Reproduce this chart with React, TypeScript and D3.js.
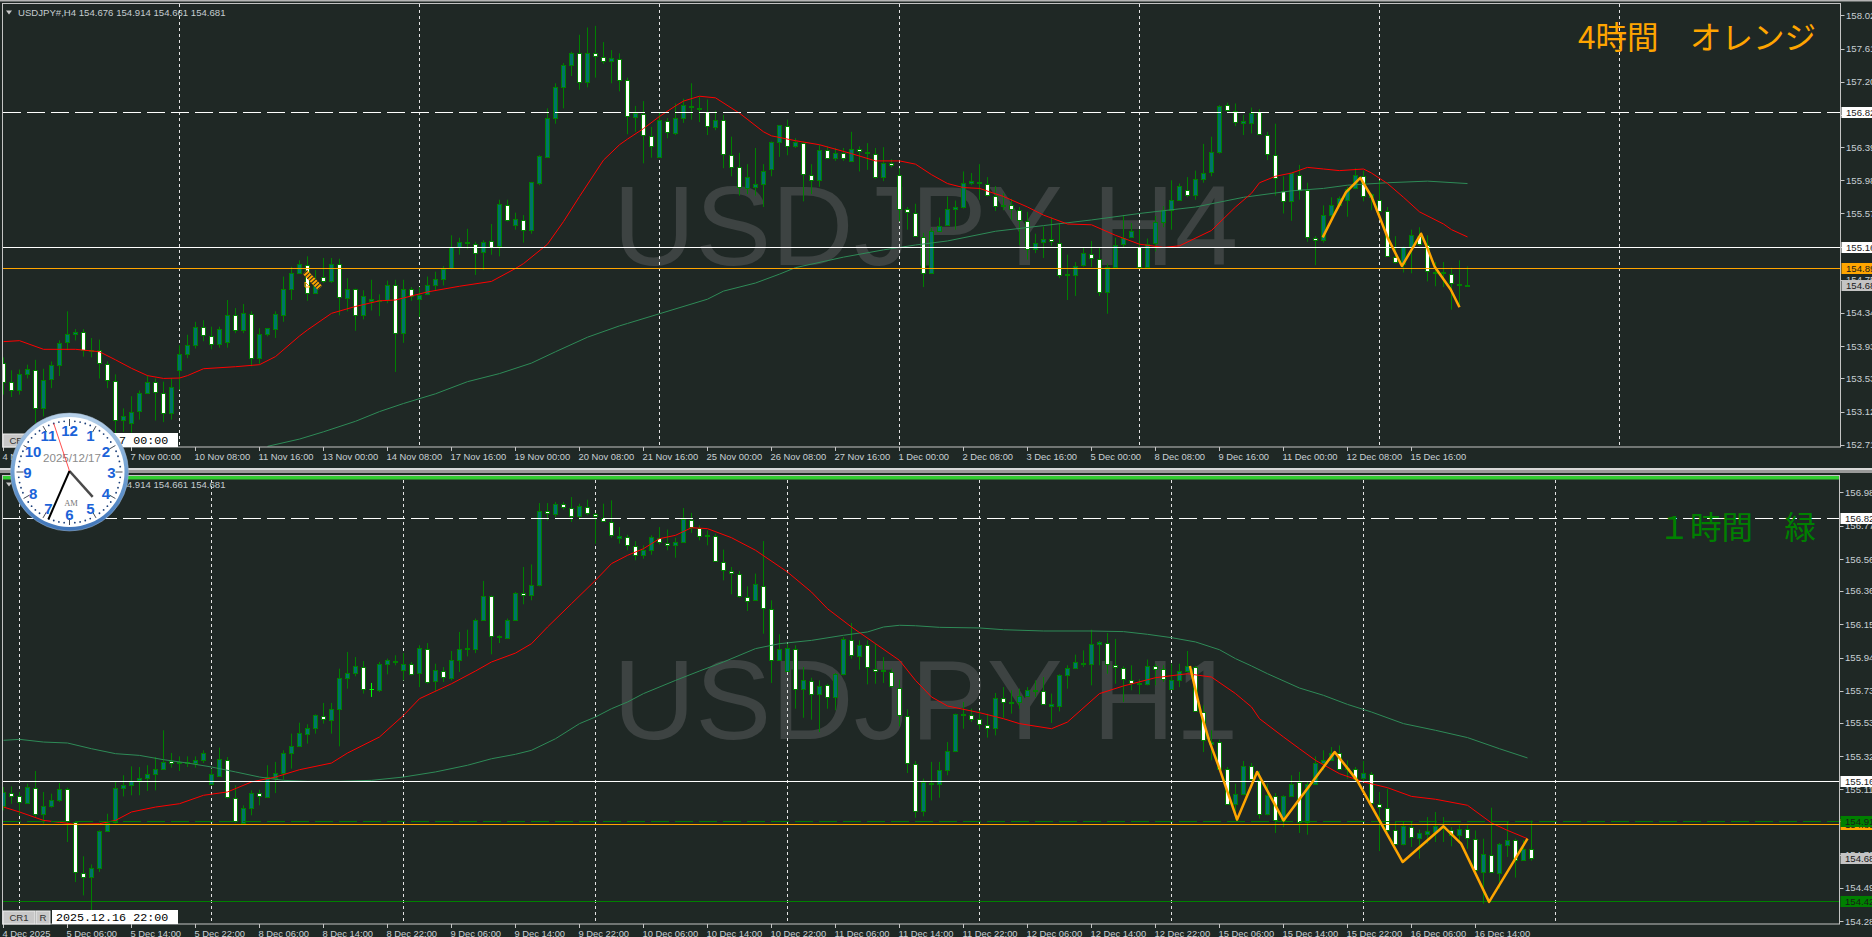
import React from "react";
import * as d3 from "d3";

// [open, high, low, close]
const h4Candles: number[][] = [
  [153.72,153.79,153.33,153.49],[153.48,153.63,153.30,153.39],[153.39,153.64,153.33,153.58],[153.59,153.70,153.53,153.65],
  [153.63,153.76,152.98,153.16],[153.16,153.65,153.06,153.51],[153.52,153.74,153.41,153.69],[153.70,154.00,153.56,153.97],
  [153.98,154.36,153.88,154.08],[154.08,154.14,154.00,154.11],[154.11,154.14,153.80,153.88],[153.87,154.03,153.79,153.88],
  [153.88,154.01,153.53,153.72],[153.71,153.74,153.41,153.51],[153.50,153.58,152.85,153.02],[153.01,153.16,152.87,153.06],
  [152.98,153.31,152.86,153.12],[153.13,153.38,153.02,153.35],[153.35,153.57,153.34,153.49],[153.49,153.53,153.01,153.36],
  [153.35,153.49,152.99,153.10],[153.10,153.53,153.02,153.43],[153.64,153.94,153.39,153.83],[153.83,154.07,153.78,153.94],
  [153.94,154.23,153.90,154.16],[154.16,154.25,153.99,154.07],[154.06,154.17,153.89,153.95],[153.95,154.17,153.91,154.14],
  [153.98,154.50,153.91,154.32],[154.31,154.40,154.09,154.13],[154.13,154.45,154.09,154.34],[154.33,154.36,153.68,153.78],
  [153.78,154.15,153.71,154.08],[154.08,154.15,154.05,154.15],[154.14,154.36,154.03,154.33],[154.32,154.79,154.23,154.64],
  [154.64,154.91,154.50,154.84],[154.84,154.99,154.83,154.94],[154.93,155.04,154.49,154.59],[154.59,154.87,154.58,154.71],
  [154.78,155.02,154.71,154.73],[154.73,155.02,154.71,154.95],[154.95,155.01,154.31,154.54],[154.53,154.77,154.36,154.64],
  [154.64,154.64,154.12,154.31],[154.31,154.62,154.26,154.55],[154.49,154.75,154.37,154.51],[154.50,154.57,154.30,154.49],
  [154.50,154.74,154.46,154.69],[154.69,154.75,153.61,154.09],[154.09,154.75,153.97,154.64],[154.64,154.66,154.49,154.55],
  [154.51,154.66,154.29,154.56],[154.57,154.79,154.56,154.68],[154.68,154.85,154.62,154.76],[154.76,154.92,154.68,154.88],
  [154.89,155.30,154.88,155.15],[155.15,155.27,155.06,155.22],[155.22,155.38,155.13,155.20],[155.19,155.22,154.81,155.08],
  [155.09,155.24,154.87,155.22],[155.23,155.44,155.06,155.16],[155.17,155.74,155.04,155.69],[155.67,155.74,155.47,155.49],
  [155.43,155.58,155.37,155.50],[155.49,155.55,155.21,155.37],[155.36,155.96,155.32,155.96],[155.95,156.29,155.92,156.28],
  [156.27,156.87,156.27,156.75],[156.75,157.18,156.68,157.13],[157.13,157.43,156.87,157.41],[157.41,157.57,157.27,157.55],
  [157.55,157.78,157.10,157.19],[157.19,157.87,157.13,157.56],[157.56,157.89,157.25,157.52],[157.51,157.69,157.42,157.45],
  [157.45,157.59,157.18,157.49],[157.48,157.55,157.08,157.22],[157.22,157.25,156.55,156.77],[156.76,156.90,156.58,156.81],
  [156.80,156.96,156.19,156.54],[156.53,156.64,156.26,156.40],[156.27,156.81,156.26,156.72],[156.71,156.75,156.50,156.58],
  [156.57,156.93,156.54,156.75],[156.75,156.99,156.69,156.91],[156.90,157.18,156.73,156.89],[156.87,157.01,156.70,156.88],
  [156.83,156.98,156.54,156.65],[156.64,156.84,156.60,156.73],[156.73,156.79,156.13,156.30],[156.29,156.52,156.03,156.15],
  [156.14,156.32,155.79,155.90],[155.89,156.18,155.81,156.02],[155.90,156.38,155.79,155.94],[155.94,156.18,155.65,156.10],
  [156.12,156.46,156.03,156.45],[156.45,156.66,156.27,156.66],[156.65,156.73,156.29,156.40],[156.40,156.50,156.38,156.46],
  [156.44,156.46,155.72,156.06],[156.04,156.18,155.81,155.99],[155.99,156.42,155.90,156.35],[156.35,156.40,156.24,156.26],
  [156.26,156.38,156.22,156.32],[156.32,156.38,156.22,156.26],[156.22,156.58,156.21,156.37],[156.37,156.40,156.09,156.34],
  [156.33,156.44,156.11,156.32],[156.31,156.38,156.00,156.02],[156.02,156.39,155.97,156.20],[156.20,156.24,156.14,156.17],
  [156.05,156.13,155.47,155.63],[155.63,155.65,155.37,155.59],[155.58,155.69,155.28,155.29],[155.28,155.33,154.66,154.84],
  [154.84,155.39,154.83,155.35],[155.35,155.52,155.34,155.42],[155.43,155.78,155.42,155.63],[155.63,155.73,155.37,155.65],
  [155.65,156.09,155.63,155.95],[155.95,156.07,155.92,155.97],[155.96,156.18,155.74,155.95],[155.93,156.02,155.78,155.80],
  [155.79,155.91,155.60,155.66],[155.66,155.82,155.61,155.68],[155.68,155.75,155.49,155.63],[155.61,155.65,155.18,155.49],
  [155.48,155.59,155.00,155.13],[155.13,155.32,155.08,155.21],[155.22,155.41,155.02,155.26],[155.26,155.52,155.17,155.23],
  [155.21,155.44,154.77,154.81],[154.81,155.06,154.50,154.82],[154.81,154.97,154.55,154.92],[154.93,155.15,154.91,155.08],
  [155.07,155.23,154.91,155.02],[155.01,155.15,154.55,154.60],[154.60,154.95,154.33,154.91],[154.91,155.27,154.90,155.18],
  [155.19,155.55,155.15,155.27],[155.28,155.45,155.27,155.35],[155.15,155.37,154.89,154.91],[154.91,155.26,154.90,155.19],
  [155.20,155.54,155.10,155.47],[155.47,155.66,155.40,155.61],[155.61,155.98,155.37,155.74],[155.74,155.94,155.74,155.91],
  [155.86,156.02,155.77,155.80],[155.80,156.10,155.74,156.00],[156.00,156.43,155.95,156.07],[156.08,156.52,156.03,156.33],
  [156.33,156.91,156.31,156.90],[156.91,156.94,156.83,156.85],[156.84,156.93,156.65,156.70],[156.69,156.79,156.54,156.71],
  [156.69,156.88,156.56,156.81],[156.82,156.86,156.54,156.55],[156.54,156.58,156.23,156.31],[156.29,156.68,155.79,156.01],
  [155.85,156.03,155.57,155.72],[155.72,156.07,155.48,156.07],[156.05,156.17,155.74,155.86],[155.86,155.95,155.22,155.28],
  [155.27,155.29,154.93,155.24],[155.24,155.67,155.21,155.55],[155.55,155.77,155.49,155.67],[155.67,155.78,155.65,155.76],
  [155.74,155.90,155.53,155.87],[155.88,156.13,155.87,156.04],[156.03,156.10,155.72,155.79],[155.77,155.82,155.61,155.81],
  [155.74,155.98,155.57,155.60],[155.60,155.65,155.03,155.04],[155.03,155.29,154.95,154.97],[154.95,155.16,154.84,155.15],
  [155.15,155.37,154.83,155.30],[155.29,155.40,155.17,155.19],[155.18,155.30,154.73,154.86],[154.84,154.97,154.67,154.85],
  [154.83,154.97,154.66,154.85],[154.82,154.90,154.38,154.71],[154.70,154.99,154.44,154.68],[154.676,154.914,154.661,154.681],
];

const h1Candles: number[][] = [
  [155.004,155.125,154.978,155.094],[155.090,155.129,155.020,155.066],[155.066,155.094,154.947,155.031],[155.027,155.146,155.020,155.125],
  [155.121,155.226,154.936,154.957],[154.957,155.094,154.895,155.004],[155.004,155.083,154.995,155.041],[155.041,155.150,155.031,155.110],
  [155.110,155.121,154.779,154.909],[154.905,154.911,154.527,154.590],[154.586,154.689,154.443,154.559],[154.559,154.638,154.349,154.618],
  [154.618,154.852,154.590,154.846],[154.846,154.957,154.842,154.901],[154.905,155.157,154.895,155.121],[155.121,155.199,155.066,155.136],
  [155.136,155.255,155.073,155.161],[155.167,155.251,155.073,155.184],[155.184,155.262,155.100,155.209],[155.209,155.314,155.104,155.241],
  [155.241,155.482,155.241,155.285],[155.289,155.339,155.247,155.276],[155.274,155.318,155.226,155.280],[155.276,155.318,155.251,155.283],
  [155.276,155.318,155.247,155.293],[155.297,155.356,155.276,155.341],[155.146,155.241,155.136,155.205],[155.194,155.373,155.188,155.299],
  [155.297,155.314,155.052,155.062],[155.058,155.136,154.899,154.911],[154.901,155.010,154.890,154.995],[154.995,155.104,154.947,155.090],
  [155.087,155.108,155.010,155.066],[155.062,155.262,155.056,155.188],[155.184,155.283,155.087,155.215],[155.215,155.356,155.171,155.341],
  [155.341,155.461,155.241,155.381],[155.381,155.530,155.377,155.467],[155.461,155.520,155.398,155.499],[155.499,155.582,155.461,155.576],
  [155.572,155.654,155.524,155.551],[155.549,155.654,155.461,155.618],[155.618,155.870,155.381,155.813],[155.813,155.975,155.744,155.845],
  [155.845,155.943,155.822,155.889],[155.880,155.918,155.713,155.740],[155.736,155.780,155.692,155.740],[155.738,155.912,155.723,155.901],
  [155.901,155.933,155.834,155.922],[155.920,155.954,155.891,155.912],[155.859,155.968,155.796,155.897],[155.901,155.912,155.828,155.838],
  [155.843,156.017,155.754,155.998],[155.996,156.031,155.775,155.786],[155.790,155.901,155.729,155.859],[155.857,155.880,155.786,155.817],
  [155.813,155.981,155.796,155.927],[155.922,156.101,155.849,155.996],[155.994,156.115,155.947,155.998],[155.996,156.185,155.968,156.178],
  [156.178,156.422,156.170,156.325],[156.325,156.331,155.960,156.073],[156.078,156.080,156.031,156.069],[156.065,156.185,156.059,156.178],
  [156.178,156.352,156.174,156.348],[156.348,156.510,156.275,156.331],[156.331,156.526,156.300,156.394],[156.394,156.912,156.388,156.860],
  [156.860,156.912,156.803,156.850],[156.845,156.919,156.824,156.908],[156.904,156.919,156.871,156.885],[156.883,156.950,156.793,156.829],
  [156.829,156.908,156.808,156.891],[156.887,156.933,156.835,156.850],[156.845,156.850,156.657,156.829],[156.820,156.908,156.793,156.799],
  [156.793,156.929,156.694,156.709],[156.694,156.761,156.657,156.703],[156.698,156.713,156.615,156.646],[156.642,156.673,156.552,156.583],
  [156.583,156.646,156.562,156.615],[156.615,156.709,156.587,156.696],[156.690,156.761,156.652,156.667],[156.661,156.745,156.615,156.648],
  [156.646,156.694,156.568,156.665],[156.665,156.881,156.661,156.810],[156.808,156.850,156.724,156.761],[156.755,156.772,156.678,156.705],
  [156.703,156.740,156.646,156.711],[156.707,156.719,156.541,156.547],[156.541,156.619,156.426,156.489],[156.484,156.510,156.338,156.472],
  [156.468,156.484,156.317,156.325],[156.321,156.388,156.233,156.296],[156.300,156.468,156.296,156.405],[156.392,156.673,156.090,156.250],
  [156.247,156.300,155.780,155.922],[155.927,156.086,155.922,155.992],[155.855,156.027,155.849,156.002],[155.996,156.017,155.618,155.740],
  [155.740,155.880,155.561,155.796],[155.792,155.813,155.549,155.708],[155.708,155.796,155.471,155.763],[155.765,155.775,155.618,155.692],
  [155.692,155.843,155.608,155.834],[155.834,156.069,155.828,156.054],[156.052,156.157,155.933,155.954],[155.952,156.048,155.864,156.021],
  [156.021,156.048,155.771,155.880],[155.868,156.027,155.775,155.855],[155.853,155.943,155.780,155.859],[155.849,155.870,155.750,155.759],
  [155.750,155.801,155.507,155.576],[155.574,155.614,155.213,155.276],[155.272,155.289,154.932,154.974],[154.974,155.178,154.941,155.157],
  [155.152,155.283,155.041,155.144],[155.142,155.283,155.058,155.230],[155.230,155.408,155.199,155.350],[155.350,155.587,155.345,155.582],
  [155.580,155.660,155.492,155.585],[155.580,155.618,155.534,155.551],[155.555,155.608,155.486,155.520],[155.517,155.587,155.436,155.496],
  [155.496,155.717,155.450,155.687],[155.687,155.754,155.561,155.658],[155.656,155.734,155.587,155.662],[155.662,155.744,155.618,155.700],
  [155.700,155.754,155.696,155.734],[155.731,155.796,155.692,155.736],[155.731,155.817,155.645,155.648],[155.637,155.713,155.528,155.645],
  [155.637,155.834,155.601,155.828],[155.828,155.891,155.744,155.876],[155.876,155.958,155.870,155.910],[155.899,155.985,155.880,155.908],
  [155.901,156.115,155.765,156.027],[156.027,156.044,155.891,156.036],[156.034,156.094,155.838,155.901],[155.893,156.057,155.775,155.880],
  [155.876,155.885,155.660,155.805],[155.799,155.891,155.734,155.780],[155.771,155.803,155.708,155.782],[155.771,155.927,155.765,155.889],
  [155.887,155.901,155.765,155.868],[155.870,155.891,155.786,155.805],[155.744,155.901,155.738,155.796],[155.796,155.901,155.754,155.857],
  [155.857,155.981,155.855,155.887],[155.880,155.887,155.597,155.601],[155.597,155.639,155.345,155.419],[155.398,155.482,155.293,155.408],
  [155.408,155.423,155.230,155.241],[155.241,155.251,155.016,155.020],[155.020,155.146,154.920,155.079],[155.079,155.289,155.073,155.255],
  [155.255,155.276,155.167,155.176],[155.171,155.226,154.926,154.953],[154.957,155.146,154.947,155.073],[155.069,155.087,154.836,154.915],
  [154.915,155.073,154.873,155.066],[155.066,155.199,155.062,155.146],[155.157,155.220,154.836,154.905],[154.905,155.157,154.825,155.146],
  [155.146,155.318,155.142,155.278],[155.278,155.356,155.230,155.297],[155.297,155.377,155.293,155.341],[155.339,155.387,155.230,155.236],
  [155.236,155.293,155.178,155.245],[155.241,155.251,155.157,155.178],[155.184,155.289,155.157,155.213],[155.209,155.220,155.020,155.024],
  [155.020,155.094,154.722,154.999],[154.995,155.115,154.842,154.852],[154.852,154.911,154.764,154.769],[154.769,154.911,154.758,154.878],
  [154.873,154.911,154.748,154.811],[154.806,154.857,154.674,154.836],[154.832,154.936,154.769,154.848],[154.842,154.968,154.779,154.878],
  [154.873,154.936,154.779,154.878],[154.852,154.873,154.752,154.821],[154.823,154.884,154.769,154.861],[154.859,154.884,154.737,154.806],
  [154.800,154.852,154.590,154.601],[154.590,154.800,154.391,154.701],[154.699,154.995,154.584,154.590],[154.586,154.773,154.485,154.764],
  [154.762,154.905,154.685,154.794],[154.794,154.800,154.555,154.668],[154.668,154.790,154.660,154.737],[154.737,154.914,154.661,154.681],
];

// [bar, price]
const h4RedMa: number[][] = [
  [0,153.985],[2,153.997],[5,153.89],[9,153.89],[12,153.86],[14,153.76],[16,153.655],[18,153.565],[20,153.53],[22,153.535],[23,153.565],[25,153.65],
  [29,153.675],[32,153.70],[34,153.80],[37,154.055],[38,154.13],[41,154.335],[44,154.42],[47,154.49],[49,154.50],[53,154.60],[57,154.67],[61,154.73],
  [64,154.89],[65,154.95],[68,155.19],[70,155.47],[72,155.78],[75,156.23],[77,156.42],[78,156.49],[80,156.62],[82,156.77],[84,156.90],[85,156.96],
  [87,157.02],[89,157.00],[92,156.81],[95,156.58],[96,156.53],[99,156.47],[102,156.42],[106,156.31],[109,156.22],[112,156.22],[114,156.18],[116,156.05],
  [118,155.94],[120,155.89],[122,155.88],[125,155.78],[128,155.65],[130,155.55],[133,155.44],[136,155.43],[139,155.30],[142,155.19],[145,155.15],[147,155.17],
  [151,155.36],[154,155.65],[156,155.82],[157,155.95],[159,156.03],[161,156.07],[163,156.14],[165,156.12],[167,156.10],[170,156.12],[171,156.07],[173,155.94],
  [175,155.77],[177,155.59],[180,155.44],[181,155.37],[183,155.28],
];
const h4GreenMa: number[][] = [
  [33,152.69],[37,152.78],[40,152.87],[44,153.00],[47,153.12],[50,153.22],[54,153.34],[58,153.49],[62,153.59],[66,153.72],[69,153.86],[73,154.04],[77,154.18],
  [78,154.21],[82,154.33],[88,154.51],[90,154.61],[94,154.71],[97,154.82],[99,154.90],[105,155.03],[110,155.12],[114,155.18],[118,155.23],[124,155.35],[130,155.42],
  [136,155.49],[142,155.57],[149,155.65],[155,155.77],[161,155.85],[165,155.88],[168,155.92],[173,155.95],[178,155.97],[183,155.94],
];
const h4Zigzag: number[][] = [
  [164.9,155.275],[166.3,155.55],[167.8,155.83],[169.6,156.01],[171,155.78],[172,155.53],[173,155.275],[174.8,154.92],[177.2,155.32],[178,155.14],[178.9,154.91],[180.9,154.63],[182,154.41],
];
const h1RedMa: number[][] = [
  [0,154.999],[2,154.968],[5,154.915],[7,154.903],[9,154.890],[12,154.894],[14,154.915],[16,154.968],[19,154.999],[22,155.020],[25,155.073],[28,155.094],
  [31,155.157],[34,155.188],[37,155.234],[41,155.276],[43,155.339],[47,155.440],[50,155.576],[52,155.681],[56,155.775],[59,155.855],[61,155.912],[64,155.968],
  [66,156.027],[68,156.132],[71,156.279],[74,156.426],[76,156.531],[78,156.583],[80,156.625],[82,156.688],[84,156.709],[86,156.757],[88,156.751],[91,156.694],
  [94,156.615],[98,156.478],[101,156.352],[103,156.247],[106,156.132],[109,156.027],[112,155.922],[114,155.796],[116,155.692],[118,155.635],[122,155.593],[125,155.555],
  [127,155.524],[131,155.492],[133,155.534],[137,155.713],[140,155.761],[144,155.813],[148,155.838],[151,155.817],[154,155.713],[155,155.671],[156,155.629],[157,155.555],
  [160,155.440],[162,155.366],[164,155.293],[167,155.209],[170,155.157],[173,155.121],[176,155.066],[179,155.048],[183,155.010],[186,154.899],[188,154.852],[190.5,154.800],
];
const h1GreenMa: number[][] = [
  [0,155.419],[2,155.425],[5,155.408],[8,155.402],[11,155.366],[14,155.335],[17,155.324],[20,155.297],[23,155.276],[26,155.251],[29,155.220],[32,155.188],
  [35,155.167],[38,155.161],[42,155.161],[46,155.167],[50,155.188],[54,155.220],[58,155.262],[61,155.303],[64,155.331],[66,155.356],[69,155.429],[72,155.524],
  [74,155.566],[76,155.618],[78,155.660],[80,155.713],[84,155.796],[87,155.855],[90,155.912],[94,155.996],[97,156.027],[101,156.048],[105,156.080],[108,156.101],
  [110,156.132],[112,156.143],[114,156.140],[117,156.130],[122,156.126],[125,156.115],[130,156.107],[136,156.107],[140,156.103],[143,156.086],[146,156.065],[149,156.038],
  [152,155.989],[154,155.933],[156,155.887],[158,155.838],[162,155.748],[165,155.702],[168,155.645],[171,155.597],[175,155.524],[179,155.482],[183,155.436],[187,155.366],[190.5,155.308],
];
const h1Zigzag: number[][] = [
  [148.3,155.887],[149.7,155.587],[150.7,155.419],[152,155.241],[154.2,154.92],[156.7,155.22],[160,154.915],[166.4,155.345],[169.2,155.167],[174.9,154.653],[180,154.878],[182.2,154.769],[185.7,154.402],[190.5,154.80],
];

const h4PriceTicks = ["158.02","157.61","157.20","156.79","156.39","155.98","155.57","155.16","154.75","154.34","153.93","153.53","153.12","152.71"];
const h1PriceTicks = ["156.98","156.77","156.56","156.36","156.15","155.94","155.73","155.53","155.32","155.11","154.91","154.70","154.49","154.28"];

const h4TimeLabels = ["4 Nov 2025","5 Nov 16:00","7 Nov 00:00","10 Nov 08:00","11 Nov 16:00","13 Nov 00:00","14 Nov 08:00","17 Nov 16:00","19 Nov 00:00","20 Nov 08:00","21 Nov 16:00","25 Nov 00:00","26 Nov 08:00","27 Nov 16:00","1 Dec 00:00","2 Dec 08:00","3 Dec 16:00","5 Dec 00:00","8 Dec 08:00","9 Dec 16:00","11 Dec 00:00","12 Dec 08:00","15 Dec 16:00"];
const h1TimeLabels = ["4 Dec 2025","5 Dec 06:00","5 Dec 14:00","5 Dec 22:00","8 Dec 06:00","8 Dec 14:00","8 Dec 22:00","9 Dec 06:00","9 Dec 14:00","9 Dec 22:00","10 Dec 06:00","10 Dec 14:00","10 Dec 22:00","11 Dec 06:00","11 Dec 14:00","11 Dec 22:00","12 Dec 06:00","12 Dec 14:00","12 Dec 22:00","15 Dec 06:00","15 Dec 14:00","15 Dec 22:00","16 Dec 06:00","16 Dec 14:00"];

const h4Separators = [22, 52, 82, 112, 142, 172, 202];
const h1Separators = [2, 26, 50, 74, 98, 122, 146, 170, 194];

const BG = "#1f2825";
const WICK = "#008000";
const BODY_UP = "#00736b";
const AXIS = "#c4c4c4";
const LABEL = "#c8d0d4";
const UI_FONT = "'Liberation Sans', Arial, sans-serif";
const BAR_STEP = 8;

const xBar = d3.scaleLinear().domain([0, 230]).range([3.5, 3.5 + BAR_STEP * 230]);

type HLine = { price: number; color: string; dashed?: boolean };
type Tag = { price: number; text: string; bg: string };

const Panel = ({ id, top, bottom, right, yScale, candles, redMa, greenMa, zigzag, ticks, timeLabels, separators, lines, tags, watermark, symbol, title, titleColor, titleY, stamp, limeBar, lineTop }: any) => {
  const line = d3.line<number[]>().x((d) => xBar(d[0])).y((d) => yScale(d[1]));
  return (
    <g>
      <clipPath id={id}>
        <rect x={3} y={top} width={right - 3} height={bottom - top} />
      </clipPath>
      <text x={613} y={watermark.y} fontFamily={UI_FONT} fontSize={114} fill="#3d4342">{watermark.text}</text>
      <g clipPath={`url(#${id})`}>
        {separators.map((b: number) => (
          <line key={b} x1={xBar(b)} x2={xBar(b)} y1={lineTop} y2={bottom} stroke="#e4e4e4" strokeDasharray="3 3" />
        ))}
        {candles.map((c: number[], i: number) => {
          const [o, h, l, cl] = c;
          const up = cl >= o;
          const x = xBar(i);
          const lime = i === limeBar;
          const yTop = Math.round(yScale(Math.max(o, cl))) + 0.5;
          const yBot = Math.round(yScale(Math.min(o, cl))) + 0.5;
          return (
            <g key={i}>
              <line x1={x} x2={x} y1={yScale(h)} y2={yScale(l)} stroke={lime ? "#00ff00" : WICK} />
              {lime ? (
                <line x1={x - 2} x2={x + 2.5} y1={yTop} y2={yTop} stroke="#00ff00" />
              ) : (
                <rect x={x - 2} y={yTop} width={4} height={Math.max(yBot - yTop, 1)} fill={up ? BODY_UP : "#ffffff"} stroke={WICK} />
              )}
            </g>
          );
        })}
        <path d={line(greenMa) ?? ""} fill="none" stroke="#2e8b57" />
        <path d={line(redMa) ?? ""} fill="none" stroke="#ff0000" />
        {lines.map((l: HLine, i: number) => (
          <line key={i} x1={3} x2={right} y1={Math.round(yScale(l.price)) + 0.5} y2={Math.round(yScale(l.price)) + 0.5} stroke={l.color} strokeDasharray={l.dashed ? "18 6" : undefined} />
        ))}
        <path d={line(zigzag) ?? ""} fill="none" stroke="#ffa500" strokeWidth={2.5} strokeLinejoin="round" />
      </g>
      <text x={1816} y={titleY} textAnchor="end" fontFamily="'Noto Sans CJK JP'" fontSize={31.5} fill={titleColor}>{title}</text>

      <path d="M6 10 L12 10 L9 14 Z" transform={`translate(0 ${top - 3.5})`} fill="#c8c8c8" />
      <text x={18} y={top + 12} fontFamily={UI_FONT} fontSize={9.6} fill="#c4ccd0">{symbol}</text>

      <rect x={2.5} y={top - 0.5} width={right - 2.5} height={bottom - top + 0.5} fill="none" stroke={AXIS} />

      {ticks.map((t: string) => {
        const y = yScale(+t);
        return (
          <g key={t}>
            <line x1={right} x2={right + 4} y1={Math.round(y) + 0.5} y2={Math.round(y) + 0.5} stroke={AXIS} />
            <text x={right + 5.5} y={y + 3.5} fontFamily={UI_FONT} fontSize={9.6} fill={LABEL}>{t}</text>
          </g>
        );
      })}
      {tags.map((t: Tag, i: number) => {
        const y = Math.round(yScale(t.price));
        return (
          <g key={i}>
            <rect x={right + 1} y={y - 5} width={40} height={11} fill={t.bg} />
            <text x={right + 5.5} y={y + 4} fontFamily={UI_FONT} fontSize={9.6} fill="#1a1a1a">{t.text}</text>
          </g>
        );
      })}
      {timeLabels.map((t: string, i: number) => {
        const x = xBar(i * 8);
        return (
          <g key={t}>
            <line x1={x} x2={x} y1={bottom} y2={bottom + 4} stroke={AXIS} />
            <text x={x - 1} y={bottom + 12.5} fontFamily={UI_FONT} fontSize={9.4} fill={LABEL}>{t}</text>
          </g>
        );
      })}

      <rect x={3} y={bottom - 13} width={32} height={13} fill="#c8c8c8" stroke="#eeeeee" />
      <text x={19} y={bottom - 3} textAnchor="middle" fontFamily={UI_FONT} fontSize={9.6} fill="#333">CR1</text>
      <rect x={36} y={bottom - 13} width={14} height={13} fill="#c8c8c8" stroke="#eeeeee" />
      <text x={43} y={bottom - 3} textAnchor="middle" fontFamily={UI_FONT} fontSize={9.6} fill="#333">R</text>
      <rect x={52} y={bottom - 14} width={126} height={14} fill="#ffffff" />
      <text x={56} y={bottom - 3} fontFamily="'Liberation Mono', monospace" fontSize={11.7} fill="#000">{stamp}</text>
    </g>
  );
};

const clockHour = 4;
const clockMinute = 34;
const clockSecond = 57;
const clockNumbers = d3.range(1, 13);

const Clock = () => {
  const cx = 69.5;
  const cy = 472;
  const polar = (deg: number, r: number) => [cx + r * Math.sin((deg * Math.PI) / 180), cy - r * Math.cos((deg * Math.PI) / 180)];
  const hand = (deg: number, r: number, color: string, w: number) => {
    const [x, y] = polar(deg, r);
    return <line x1={cx} y1={cy - 1} x2={x} y2={y} stroke={color} strokeWidth={w} />;
  };
  return (
    <g>
      <defs>
        <linearGradient id="ring" x1="0" y1="0" x2="0" y2="1">
          <stop offset="0" stopColor="#b9d2ea" />
          <stop offset="0.5" stopColor="#6f9fd2" />
          <stop offset="1" stopColor="#3f74b8" />
        </linearGradient>
      </defs>
      <circle cx={cx} cy={cy} r={59} fill="url(#ring)" stroke="#9fb4c8" strokeWidth={0.5} />
      <circle cx={cx} cy={cy} r={55} fill="#ffffff" />
      {d3.range(0, 60).map((m) => {
        const [x, y] = polar(m * 6, 51);
        if (m % 5 === 0) {
          const [x2, y2] = polar(m * 6, 46);
          const [x1, y1] = polar(m * 6, 53);
          return <line key={m} x1={x1} y1={y1} x2={x2} y2={y2} stroke="#444a55" strokeWidth={1} />;
        }
        return <circle key={m} cx={x} cy={y} r={0.9} fill="#1b3f7a" />;
      })}
      {clockNumbers.map((n) => {
        const [x, y] = polar(n * 30, 42);
        return (
          <text key={n} x={x} y={y + 5.5} textAnchor="middle" fontFamily={UI_FONT} fontWeight="bold" fontSize={15} fill="#1b63d8">{n}</text>
        );
      })}
      <text x={72} y={462} textAnchor="middle" fontFamily={UI_FONT} fontSize={11.6} fill="#8b8b8b">2025/12/17</text>
      <text x={71} y={506} textAnchor="middle" fontFamily="'Liberation Serif', serif" fontSize={8.5} fill="#777">AM</text>
      {hand((clockHour + clockMinute / 60) * 30, 34, "#4a4a4a", 2.5)}
      {hand(clockMinute * 6, 52, "#000000", 2)}
      {hand(clockSecond * 6, 51, "#ff2020", 0.8)}
    </g>
  );
};

const h4Y = d3.scaleLinear().domain([152.682, 158.21]).range([447, 0]);
const h1Y = d3.scaleLinear().domain([154.263, 157.139]).range([924, 467]);

export default function App() {
  return (
    <svg width={1872} height={937} style={{ position: "fixed", left: 0, top: 0, background: BG }}>
      <rect x={0} y={0} width={1872} height={1.5} fill="#b4b4b4" />
      <Panel
        id="h4clip" top={4} bottom={447} right={1840.5} lineTop={4} yScale={h4Y}
        candles={h4Candles} redMa={h4RedMa} greenMa={h4GreenMa} zigzag={h4Zigzag}
        ticks={h4PriceTicks} timeLabels={h4TimeLabels} separators={h4Separators}
        lines={[
          { price: 156.82, color: "#ffffff", dashed: true },
          { price: 155.16, color: "#ffffff" },
          { price: 154.89, color: "#ffa500" },
        ]}
        tags={[
          { price: 156.82, text: "156.82", bg: "#ffffff" },
          { price: 155.16, text: "155.16", bg: "#ffffff" },
          { price: 154.89, text: "154.89", bg: "#ffa500" },
          { price: 154.68, text: "154.68", bg: "#c4c4c4" },
        ]}
        watermark={{ text: "USDJPY H4", y: 265 }}
        symbol="USDJPY#,H4  154.676 154.914 154.661 154.681"
        title={"4時間\u3000オレンジ"} titleColor="#ffa500" titleY={49}
        stamp="2025.12.17 00:00"
      />
      <g transform="translate(312 280)">
        <path d="M-7 -8 L8 8" stroke="#ffa500" strokeWidth={6} />
        <path d="M-7 -8 L8 8" stroke="#1f2825" strokeWidth={6} strokeDasharray="1 2" />
        <path d="M-7 2 L-7 7 L-2 7 Z" fill="none" stroke="#ffa500" />
      </g>
      <rect x={0} y={468} width={1872} height={2} fill="#d8d8d8" />
      <rect x={0} y={470} width={1872} height={3} fill="#9a9a9a" />
      <Panel
        id="h1clip" top={476} bottom={924} right={1839.5} lineTop={480} yScale={h1Y}
        candles={h1Candles} redMa={h1RedMa} greenMa={h1GreenMa} zigzag={h1Zigzag}
        ticks={h1PriceTicks} timeLabels={h1TimeLabels} separators={h1Separators}
        limeBar={46}
        lines={[
          { price: 156.82, color: "#ffffff", dashed: true },
          { price: 155.16, color: "#ffffff" },
          { price: 154.91, color: "#008000", dashed: true },
          { price: 154.89, color: "#ffa500" },
          { price: 154.41, color: "#008000" },
        ]}
        tags={[
          { price: 156.82, text: "156.82", bg: "#ffffff" },
          { price: 155.16, text: "155.16", bg: "#ffffff" },
          { price: 154.89, text: "154.89", bg: "#ffa500" },
          { price: 154.91, text: "154.91", bg: "#008000" },
          { price: 154.68, text: "154.68", bg: "#c4c4c4" },
          { price: 154.41, text: "154.42", bg: "#008000" },
        ]}
        watermark={{ text: "USDJPY H1", y: 739 }}
        symbol="USDJPY#,H1  154.676 154.914 154.661 154.681"
        title={"１時間\u3000緑"} titleColor="#008000" titleY={539}
        stamp="2025.12.16 22:00"
      />
      <rect x={3} y={476} width={1836} height={3.5} fill="#32cd32" />
      <Clock />
    </svg>
  );
}
